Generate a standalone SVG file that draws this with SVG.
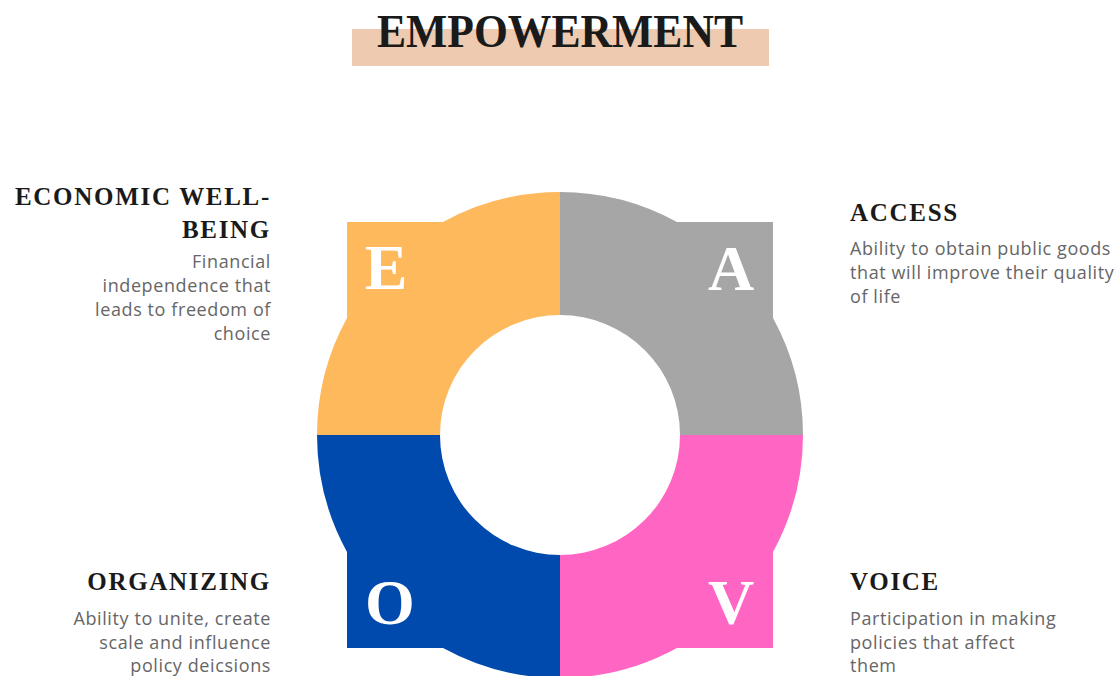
<svg xmlns="http://www.w3.org/2000/svg" width="1117" height="676" viewBox="0 0 1117 676">
<style>
.head{font-family:"Liberation Serif","DejaVu Serif",serif;font-weight:bold;font-size:25px;letter-spacing:1.7px;fill:#1a1a1a}
.body{font-family:"Open Sans","Liberation Sans",sans-serif;font-size:18px;letter-spacing:0.6px;fill:#666}
.letter{font-family:"Liberation Serif","DejaVu Serif",serif;font-weight:bold;font-size:64px;fill:#fff;text-anchor:middle}
.r{text-anchor:end}
</style>
<rect width="1117" height="676" fill="#fff"/>
<g id="title">
<rect x="352" y="29" width="417" height="37" fill="#EECAB0"/>
<text x="560" y="47" text-anchor="middle" textLength="366" lengthAdjust="spacingAndGlyphs" style="font-family:'Liberation Serif','DejaVu Serif',serif;font-weight:bold;font-size:46px;fill:#1a1a1a">EMPOWERMENT</text>
</g>
<g id="ring">
<g id="quad-e">
<path d="M560 192 A243 243 0 0 0 443.04 222 L347 222 L347 318.04 A243 243 0 0 0 317 435 L440 435 A120 120 0 0 1 560 315 Z" fill="#FDB95B"/>
<text class="letter" x="386" y="289">E</text>
</g>
<g id="quad-a">
<path d="M560 192 A243 243 0 0 1 676.96 222 L773 222 L773 318.04 A243 243 0 0 1 803 435 L680 435 A120 120 0 0 0 560 315 Z" fill="#A6A6A6"/>
<text class="letter" x="731" y="290">A</text>
</g>
<g id="quad-v">
<path d="M803 435 A243 243 0 0 1 773 551.96 L773 648 L676.96 648 A243 243 0 0 1 560 678 L560 555 A120 120 0 0 0 680 435 Z" fill="#FF66C4"/>
<text class="letter" x="731" y="624">V</text>
</g>
<g id="quad-o">
<path d="M560 678 A243 243 0 0 1 443.04 648 L347 648 L347 551.96 A243 243 0 0 1 317 435 L440 435 A120 120 0 0 0 560 555 Z" fill="#004AAD"/>
<text class="letter" x="390" y="624">O</text>
</g>
</g>
<g id="label-economic">
<text class="head r" x="271" y="205">ECONOMIC WELL-</text>
<text class="head r" x="271" y="238">BEING</text>
<text class="body r" x="271" y="268">Financial</text>
<text class="body r" x="271" y="292">independence that</text>
<text class="body r" x="271" y="316">leads to freedom of</text>
<text class="body r" x="271" y="340">choice</text>
</g>
<g id="label-access">
<text class="head" x="850" y="221">ACCESS</text>
<text class="body" x="850" y="255">Ability to obtain public goods</text>
<text class="body" x="850" y="279">that will improve their quality</text>
<text class="body" x="850" y="303">of life</text>
</g>
<g id="label-organizing">
<text class="head r" x="271" y="590">ORGANIZING</text>
<text class="body r" x="271" y="625">Ability to unite, create</text>
<text class="body r" x="271" y="649">scale and influence</text>
<text class="body r" x="271" y="672">policy deicsions</text>
</g>
<g id="label-voice">
<text class="head" x="850" y="590">VOICE</text>
<text class="body" x="850" y="625">Participation in making</text>
<text class="body" x="850" y="649">policies that affect</text>
<text class="body" x="850" y="672">them</text>
</g>
</svg>
